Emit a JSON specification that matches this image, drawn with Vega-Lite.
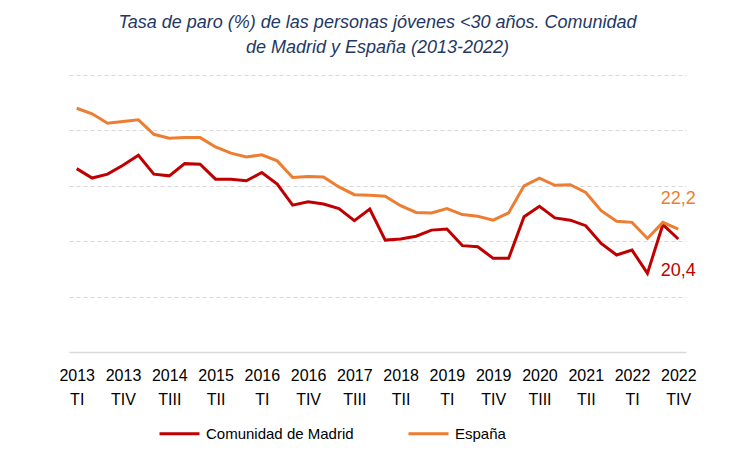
{
  "$schema": "https://vega.github.io/schema/vega-lite/v6.json",
  "width": 617,
  "height": 277,
  "autosize": "none",
  "padding": {"left": 69, "top": 75, "right": 43, "bottom": 104},
  "background": "white",
  "config": {
    "font": "Liberation Sans",
    "view": {"stroke": null},
    "locale": {"number": {"decimal": ",", "thousands": ".", "grouping": [3], "currency": ["", " €"]}}
  },
  "title": {
    "text": ["Tasa de paro (%) de las personas jóvenes <30 años. Comunidad", "de Madrid y España (2013-2022)"],
    "font": "Liberation Sans",
    "fontSize": 18,
    "fontStyle": "italic",
    "fontWeight": "normal",
    "color": "#1F3864",
    "lineHeight": 25,
    "anchor": "middle",
    "offset": 18
  },
  "data": {
    "values": [
      {"q": "2013 TI", "Comunidad de Madrid": 33.1, "España": 44.0},
      {"q": "2013 TII", "Comunidad de Madrid": 31.4, "España": 43.0},
      {"q": "2013 TIII", "Comunidad de Madrid": 32.1, "España": 41.3},
      {"q": "2013 TIV", "Comunidad de Madrid": 33.7, "España": 41.6},
      {"q": "2014 TI", "Comunidad de Madrid": 35.5, "España": 41.9},
      {"q": "2014 TII", "Comunidad de Madrid": 32.1, "España": 39.3},
      {"q": "2014 TIII", "Comunidad de Madrid": 31.8, "España": 38.6},
      {"q": "2014 TIV", "Comunidad de Madrid": 34.0, "España": 38.7},
      {"q": "2015 TI", "Comunidad de Madrid": 33.9, "España": 38.7},
      {"q": "2015 TII", "Comunidad de Madrid": 31.2, "España": 37.0},
      {"q": "2015 TIII", "Comunidad de Madrid": 31.2, "España": 35.9},
      {"q": "2015 TIV", "Comunidad de Madrid": 30.9, "España": 35.2},
      {"q": "2016 TI", "Comunidad de Madrid": 32.4, "España": 35.6},
      {"q": "2016 TII", "Comunidad de Madrid": 30.3, "España": 34.5},
      {"q": "2016 TIII", "Comunidad de Madrid": 26.5, "España": 31.5},
      {"q": "2016 TIV", "Comunidad de Madrid": 27.1, "España": 31.7},
      {"q": "2017 TI", "Comunidad de Madrid": 26.7, "España": 31.6},
      {"q": "2017 TII", "Comunidad de Madrid": 25.9, "España": 29.8},
      {"q": "2017 TIII", "Comunidad de Madrid": 23.7, "España": 28.4},
      {"q": "2017 TIV", "Comunidad de Madrid": 25.8, "España": 28.3},
      {"q": "2018 TI", "Comunidad de Madrid": 20.2, "España": 28.1},
      {"q": "2018 TII", "Comunidad de Madrid": 20.4, "España": 26.4},
      {"q": "2018 TIII", "Comunidad de Madrid": 20.9, "España": 25.2},
      {"q": "2018 TIV", "Comunidad de Madrid": 22.0, "España": 25.1},
      {"q": "2019 TI", "Comunidad de Madrid": 22.2, "España": 25.9},
      {"q": "2019 TII", "Comunidad de Madrid": 19.2, "España": 24.8},
      {"q": "2019 TIII", "Comunidad de Madrid": 19.0, "España": 24.5},
      {"q": "2019 TIV", "Comunidad de Madrid": 16.9, "España": 23.8},
      {"q": "2020 TI", "Comunidad de Madrid": 16.9, "España": 25.1},
      {"q": "2020 TII", "Comunidad de Madrid": 24.4, "España": 30.0},
      {"q": "2020 TIII", "Comunidad de Madrid": 26.3, "España": 31.4},
      {"q": "2020 TIV", "Comunidad de Madrid": 24.2, "España": 30.1},
      {"q": "2021 TI", "Comunidad de Madrid": 23.8, "España": 30.2},
      {"q": "2021 TII", "Comunidad de Madrid": 22.8, "España": 28.8},
      {"q": "2021 TIII", "Comunidad de Madrid": 19.6, "España": 25.5},
      {"q": "2021 TIV", "Comunidad de Madrid": 17.5, "España": 23.6},
      {"q": "2022 TI", "Comunidad de Madrid": 18.4, "España": 23.4},
      {"q": "2022 TII", "Comunidad de Madrid": 14.2, "España": 20.5},
      {"q": "2022 TIII", "Comunidad de Madrid": 23.0, "España": 23.4},
      {"q": "2022 TIV", "Comunidad de Madrid": 20.4, "España": 22.2}
    ]
  },
  "transform": [{"fold": ["Comunidad de Madrid", "España"], "as": ["s", "v"]}],
  "encoding": {
    "x": {
      "field": "q",
      "type": "ordinal",
      "sort": null,
      "scale": {"type": "point", "padding": 0.5},
      "axis": {
        "title": null,
        "values": ["2013 TI", "2013 TIV", "2014 TIII", "2015 TII", "2016 TI", "2016 TIV", "2017 TIII", "2018 TII", "2019 TI", "2019 TIV", "2020 TIII", "2021 TII", "2022 TI", "2022 TIV"],
        "labelExpr": "split(datum.value, ' ')",
        "labelAngle": 0,
        "labelFontSize": 16,
        "labelColor": "#000000",
        "labelLineHeight": 24,
        "labelPadding": 15,
        "ticks": false,
        "domainColor": "#D9D9D9",
        "domainWidth": 1.5,
        "grid": false
      }
    },
    "y": {
      "field": "v",
      "type": "quantitative",
      "scale": {"domain": [0, 50], "nice": false},
      "axis": {
        "title": null,
        "labels": false,
        "ticks": false,
        "domain": false,
        "values": [10, 20, 30, 40, 50],
        "gridColor": "#D9D9D9",
        "gridDash": [4, 3],
        "gridWidth": 1
      }
    }
  },
  "layer": [
    {
      "mark": {"type": "line", "strokeWidth": 3, "strokeJoin": "miter"},
      "encoding": {
        "color": {
          "field": "s",
          "type": "nominal",
          "scale": {"domain": ["Comunidad de Madrid", "España"], "range": ["#C00000", "#ED7D31"]},
          "legend": {
            "title": null,
            "orient": "none",
            "direction": "horizontal",
            "legendX": 89,
            "legendY": 337,
            "symbolType": "stroke",
            "symbolSize": 1600,
            "symbolStrokeWidth": 3,
            "labelFontSize": 15,
            "labelColor": "#000000",
            "labelOffset": 5,
            "columnPadding": 48
          }
        }
      }
    },
    {
      "transform": [{"filter": "datum.q == '2022 TIV' && datum.s == 'España'"}],
      "mark": {"type": "text", "fontSize": 18, "color": "#ED7D31", "dy": -30, "align": "center"},
      "encoding": {"text": {"field": "v", "type": "quantitative", "format": ".1f"}}
    },
    {
      "transform": [{"filter": "datum.q == '2022 TIV' && datum.s == 'Comunidad de Madrid'"}],
      "mark": {"type": "text", "fontSize": 18, "color": "#C00000", "dy": 32, "align": "center"},
      "encoding": {"text": {"field": "v", "type": "quantitative", "format": ".1f"}}
    }
  ]
}
